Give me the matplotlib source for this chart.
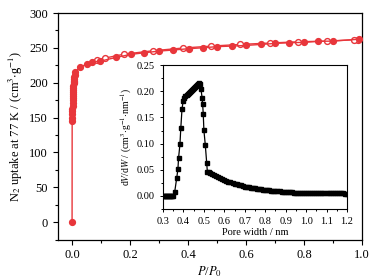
import matplotlib
matplotlib.use("Agg")
import matplotlib.pyplot as plt
from matplotlib.ticker import MultipleLocator

plt.rcParams['font.family'] = ['Liberation Serif', 'DejaVu Serif']
plt.rcParams['mathtext.fontset'] = 'stix'

# N2 isotherm at 77 K, adsorption branch (filled)
adsP = [0.0, 0.0003, 0.0005, 0.0008, 0.001, 0.0013, 0.0016, 0.0019, 0.0022, 0.0025,
        0.0028, 0.0031, 0.0035, 0.0039, 0.0043, 0.0048, 0.0053, 0.0058, 0.0064, 0.007,
        0.0078, 0.0088, 0.01, 0.027, 0.053, 0.069, 0.097, 0.152, 0.202, 0.248, 0.301,
        0.349, 0.402, 0.451, 0.501, 0.551, 0.600, 0.651, 0.701, 0.749, 0.800, 0.848,
        0.899, 0.990]
adsV = [0, 145, 150, 155, 159, 163, 167, 171, 175, 178,
        181, 184, 187, 190, 193, 196, 199, 201, 203, 205,
        208, 211, 215, 222, 227.5, 230, 231, 236.4, 240.7, 243, 245.5,
        247, 248.9, 250.2, 251.9, 252.6, 253.6, 255, 256.5, 257.4, 258, 259.4,
        259.8, 262.5]
# desorption branch (open)
desP = [0.984, 0.972, 0.878, 0.779, 0.681, 0.579, 0.480, 0.381, 0.278, 0.179, 0.113, 0.085]
desV = [262, 261.7, 259.8, 258.8, 257, 255, 252.6, 249.8, 245.9, 241, 235.4, 232.5]

# pore size distribution (inset)
poreW = [0.300, 0.305, 0.310, 0.315, 0.320, 0.325, 0.330, 0.335, 0.340, 0.345, 0.350,
         0.357, 0.367, 0.373, 0.376, 0.383, 0.387, 0.393, 0.399,
         0.405, 0.410, 0.415, 0.420, 0.425, 0.430, 0.435, 0.440, 0.445, 0.450,
         0.455, 0.460, 0.465, 0.470, 0.475, 0.480,
         0.486, 0.491, 0.494, 0.497, 0.500, 0.507, 0.514, 0.517, 0.524,
         0.530, 0.540, 0.550, 0.560, 0.570, 0.580, 0.590, 0.600, 0.610, 0.620,
         0.630, 0.640, 0.650, 0.660, 0.670, 0.680, 0.690, 0.700, 0.710, 0.720,
         0.730, 0.740, 0.750, 0.760, 0.770, 0.780, 0.790, 0.800, 0.810, 0.820,
         0.830, 0.840, 0.850, 0.860, 0.870, 0.880, 0.890, 0.900, 0.910, 0.920,
         0.930, 0.940, 0.950, 0.960, 0.970, 0.980, 0.990, 1.000, 1.010, 1.020,
         1.030, 1.040, 1.050, 1.060, 1.070, 1.080, 1.090, 1.100, 1.110, 1.120,
         1.130, 1.140, 1.150, 1.160, 1.170, 1.180, 1.190, 1.200]
dVdW = [0, 0, 0, 0, 0, 0, 0, 0, 0, 0, 0,
        0.007, 0.034, 0.051, 0.072, 0.099, 0.129, 0.166, 0.182,
        0.187, 0.190, 0.192, 0.194, 0.196, 0.198, 0.200, 0.202, 0.204, 0.206,
        0.208, 0.210, 0.212, 0.214, 0.216, 0.213,
        0.204, 0.188, 0.175, 0.156, 0.126, 0.097, 0.062, 0.046, 0.046,
        0.044, 0.042, 0.040, 0.038, 0.036, 0.034, 0.0325, 0.031, 0.029, 0.0275,
        0.026, 0.0245, 0.023, 0.022, 0.021, 0.020, 0.019, 0.018, 0.017, 0.0163,
        0.0156, 0.015, 0.0144, 0.0138, 0.0132, 0.0126, 0.012, 0.0115, 0.011, 0.0106,
        0.0102, 0.0098, 0.0094, 0.009, 0.0086, 0.0083, 0.008, 0.0077, 0.0074, 0.0071,
        0.0068, 0.0065, 0.0062, 0.006, 0.0057, 0.0055, 0.0053, 0.0052, 0.0052, 0.0053,
        0.0055, 0.0057, 0.0059, 0.006, 0.006, 0.006, 0.0059, 0.0058, 0.0057, 0.0055,
        0.0054, 0.0052, 0.0051, 0.005, 0.0049, 0.0048, 0.0047, 0.0046]

red = '#e8363b'
fig = plt.figure(figsize=(3.89, 2.78), dpi=100)
ax = fig.add_axes([0.148, 0.138, 0.783, 0.815])
ax.plot(adsP, adsV, '-o', color=red, lw=1.0, ms=4.2, mfc=red, mec=red, zorder=3)
ax.plot(desP, desV, '-o', color=red, lw=1.0, ms=4.2, mfc='white', mec=red, mew=1.0, zorder=2)
ax.set_xlim(-0.05, 1.0)
ax.set_ylim(-25, 300)
ax.xaxis.set_major_locator(MultipleLocator(0.2))
ax.xaxis.set_minor_locator(MultipleLocator(0.1))
ax.yaxis.set_major_locator(MultipleLocator(50))
ax.yaxis.set_minor_locator(MultipleLocator(25))
ax.tick_params(which='both', direction='out', labelsize=9, width=0.8)
ax.tick_params(which='major', length=3.5)
ax.tick_params(which='minor', length=2)
ax.set_xlabel(r'$P$/$P_0$', fontsize=9, labelpad=2)
ax.set_ylabel(r'N$_2$ uptake at 77 K / (cm$^3$$\cdot$g$^{-1}$)', fontsize=9, labelpad=3)
for s in ax.spines.values():
    s.set_linewidth(0.9)

ins = fig.add_axes([0.419, 0.248, 0.473, 0.518])
ins.plot(poreW, dVdW, '-s', color='black', lw=0.9, ms=3.2)
ins.set_xlim(0.3, 1.2)
ins.set_ylim(-0.025, 0.25)
ins.xaxis.set_major_locator(MultipleLocator(0.1))
ins.xaxis.set_minor_locator(MultipleLocator(0.05))
ins.yaxis.set_major_locator(MultipleLocator(0.05))
ins.yaxis.set_minor_locator(MultipleLocator(0.025))
ins.tick_params(which='both', direction='out', labelsize=7.5, width=0.7)
ins.tick_params(which='major', length=2.5)
ins.tick_params(which='minor', length=1.5)
ins.xaxis.set_major_formatter(plt.FuncFormatter(lambda v, p: '%.1f' % v))
ins.yaxis.set_major_formatter(plt.FuncFormatter(lambda v, p: '%.2f' % v))
ins.set_xlabel('Pore width / nm', fontsize=7.5, labelpad=1)
ins.set_ylabel(r'd$V$/d$W$ / (cm$^3$$\cdot$g$^{-1}$$\cdot$nm$^{-1}$)', fontsize=7, labelpad=2)
for s in ins.spines.values():
    s.set_linewidth(0.8)

fig.savefig('out.png', dpi=100)
